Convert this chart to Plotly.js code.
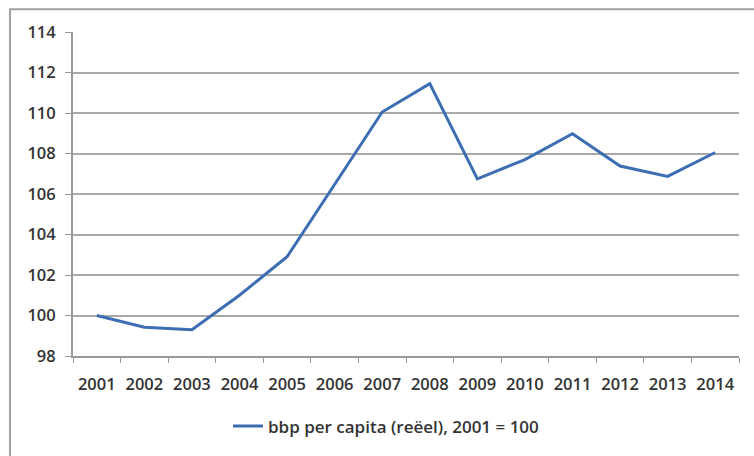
<!DOCTYPE html>
<html>
<head>
<meta charset="utf-8">
<script src="https://cdn.plot.ly/plotly-3.0.1.min.js"></script>
<style>html,body{margin:0;padding:0;background:#fff;}#chart{width:754px;height:456px;}</style>
</head>
<body>
<div id="chart"></div>
<script>
var years = ["2001","2002","2003","2004","2005","2006","2007","2008","2009","2010","2011","2012","2013","2014"];
var bbpPerCapita = [100, 99.42, 99.3, 101.0, 102.9, 106.45, 110.05, 111.45, 106.75, 107.7, 108.98, 107.38, 106.87, 108.05];
var seriesName = "bbp per capita (reëel), 2001 = 100";
var yTicks = [98, 100, 102, 104, 106, 108, 110, 112, 114];

var L = 73, R = 15, T = 32, B = 97, W = 754, H = 456;
var pw = W - L - R, ph = H - T - B;

var trace = {
  x: years, y: bbpPerCapita, type: "scatter", mode: "lines", name: seriesName,
  line: {color: "#3d6db3", width: 3}
};
var layout = {
  width: W, height: H,
  margin: {l: L, r: R, t: T, b: B, pad: 0},
  paper_bgcolor: "#fff", plot_bgcolor: "#fff",
  font: {family: "Open Sans, Liberation Sans, sans-serif", color: "#333"},
  xaxis: {
    type: "category", tickson: "boundaries", ticks: "outside", ticklen: 5, tickcolor: "#999",
    showline: true, linecolor: "#999", linewidth: 2, showgrid: false,
    tickfont: {size: 16.5, color: "#333", weight: 600}, range: [-0.5, 13.5], ticklabelstandoff: 12
  },
  yaxis: {
    range: [98, 114], tickvals: yTicks, ticks: "outside", ticklen: 6, tickcolor: "#999",
    showline: true, linecolor: "#999", linewidth: 2,
    showgrid: true, gridcolor: "#a8a8a8", gridwidth: 2, zeroline: false,
    tickfont: {size: 16.5, color: "#333", weight: 600}, ticklabelstandoff: 6
  },
  showlegend: true,
  legend: {
    orientation: "h", x: (386 - L) / pw, xanchor: "center", y: (359 - 430) / ph, yanchor: "middle",
    font: {size: 17, color: "#333", weight: 600}, bgcolor: "rgba(0,0,0,0)"
  },
  shapes: [{
    type: "rect", xref: "paper", yref: "paper",
    x0: (10 - L) / pw, x1: (770 - L) / pw, y0: (359 - 470) / ph, y1: (359 - 9) / ph,
    line: {color: "#a0a0a0", width: 2}, fillcolor: "rgba(0,0,0,0)", layer: "below"
  }]
};
Plotly.newPlot("chart", [trace], layout, {displayModeBar: false, staticPlot: true});
</script>
</body>
</html>
